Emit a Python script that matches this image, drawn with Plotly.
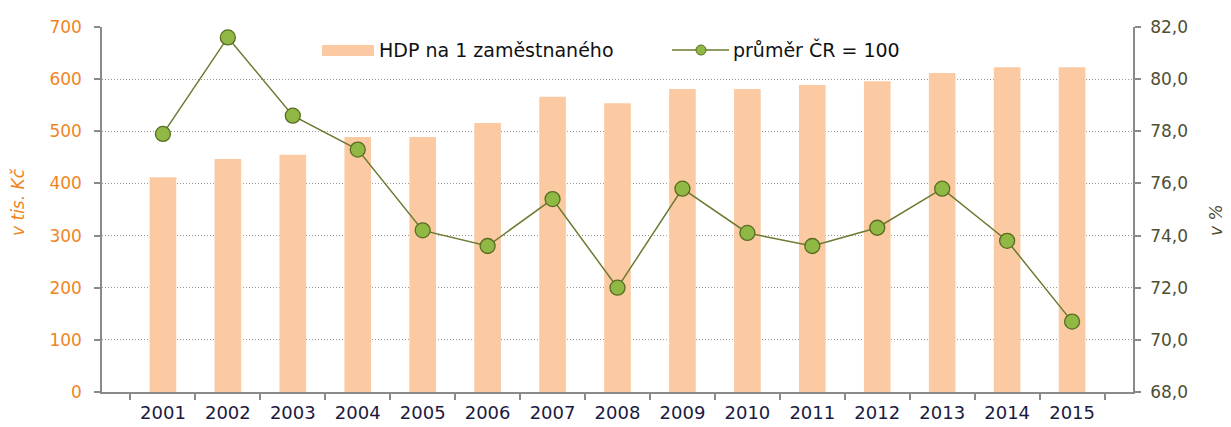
import plotly.graph_objects as go

years = [str(y) for y in range(2001, 2016)]
hdp = [412, 447, 455, 489, 489, 516, 566, 554, 581, 581, 589, 596, 612, 623, 623]
prumer = [77.9, 81.6, 78.6, 77.3, 74.2, 73.6, 75.4, 72.0, 75.8, 74.1, 73.6, 74.3, 75.8, 73.8, 70.7]

bar_name = "HDP na 1 zaměstnaného"
line_name = "průměr ČR = 100"
left_title = "v tis. Kč"
right_title = "v %"

FONT = "DejaVu Sans, Verdana, sans-serif"
BAR_COLOR = "#fbcaa2"
LINE_COLOR = "#6b7a30"
MARKER_FILL = "#8fb944"
MARKER_EDGE = "#5a6b22"
AXIS_COLOR = "#8a8a8a"
ORANGE = "#f0851f"
OLIVE = "#4e4e34"

# page body has an 8px margin in the browser -> compensate
OFFX, OFFY = 8, 8
W, H = 1231 - OFFX, 427 - OFFY
PL, PR, PT, PB = 102 - OFFX, 98, 27 - OFFY, 35
plot_w = W - PL - PR
plot_h = H - PT - PB


def px_x(px):
    return (px - OFFX - PL) / plot_w


def px_y(py):
    return (H - PB - (py - OFFY)) / plot_h


fig = go.Figure()
fig.add_trace(go.Bar(
    x=years, y=hdp, name=bar_name,
    marker=dict(color=BAR_COLOR, line=dict(width=0)),
    width=0.41, yaxis="y", showlegend=False,
))
fig.add_trace(go.Scatter(
    x=years, y=prumer, name=line_name, yaxis="y2",
    mode="lines+markers", showlegend=False,
    line=dict(color=LINE_COLOR, width=1.5),
    marker=dict(size=15, color=MARKER_FILL, line=dict(color=MARKER_EDGE, width=1.3)),
))

# custom legend (Excel-like wide symbols)
ly = 50
shapes = [
    dict(type="rect", xref="paper", yref="paper",
         x0=px_x(322), x1=px_x(374), y0=px_y(56), y1=px_y(45),
         fillcolor=BAR_COLOR, line=dict(width=0), layer="above"),
    dict(type="line", xref="paper", yref="paper",
         x0=px_x(672), x1=px_x(729), y0=px_y(ly), y1=px_y(ly),
         line=dict(color=LINE_COLOR, width=1.5), layer="above"),
    dict(type="circle", xref="paper", yref="paper",
         x0=px_x(696), x1=px_x(706), y0=px_y(ly + 5), y1=px_y(ly - 5),
         fillcolor=MARKER_FILL, line=dict(color=MARKER_EDGE, width=1), layer="above"),
]
annotations = [
    dict(text=bar_name, xref="paper", yref="paper", x=px_x(377), y=px_y(ly),
         xanchor="left", yanchor="middle", showarrow=False,
         font=dict(family=FONT, size=19, color="#111111")),
    dict(text=line_name, xref="paper", yref="paper", x=px_x(731), y=px_y(ly),
         xanchor="left", yanchor="middle", showarrow=False,
         font=dict(family=FONT, size=19, color="#111111")),
    dict(text="<i>" + left_title + "</i>", xref="paper", yref="paper",
         x=px_x(18), y=px_y(202), xanchor="center", yanchor="middle",
         textangle=-90, showarrow=False,
         font=dict(family=FONT, size=17, color=ORANGE)),
    dict(text="<i>" + right_title + "</i>", xref="paper", yref="paper",
         x=px_x(1216), y=px_y(220), xanchor="center", yanchor="middle",
         textangle=-90, showarrow=False,
         font=dict(family=FONT, size=17, color=OLIVE)),
]

fig.update_layout(
    width=W, height=H,
    margin=dict(l=PL, r=PR, t=PT, b=PB, autoexpand=False),
    paper_bgcolor="white", plot_bgcolor="white",
    separators=",.",
    font=dict(family=FONT, size=17, color="#1a1a40"),
    showlegend=False,
    shapes=shapes,
    annotations=annotations,
    xaxis=dict(
        showline=True, linecolor=AXIS_COLOR, linewidth=1.5,
        ticks="outside", ticklen=6, tickcolor=AXIS_COLOR, tickwidth=1.5,
        tickson="boundaries", showgrid=False, automargin=False,
        ticklabelstandoff=4,
        tickfont=dict(family=FONT, size=18, color="#1a1a40"),
    ),
    yaxis=dict(
        range=[0, 700], dtick=100, showline=True, linecolor=AXIS_COLOR, linewidth=1.5,
        ticks="outside", ticklen=6, tickcolor=AXIS_COLOR, tickwidth=1.5,
        showgrid=True, gridcolor="#9a9a9a", griddash="1px,2px", gridwidth=1,
        zeroline=False, automargin=False, ticklabelstandoff=9,
        tickfont=dict(family=FONT, size=17, color=ORANGE),
    ),
    yaxis2=dict(
        range=[68, 82], dtick=2, overlaying="y", side="right", tickformat=".1f",
        showline=True, linecolor=AXIS_COLOR, linewidth=1.5,
        ticks="outside", ticklen=6, tickcolor=AXIS_COLOR, tickwidth=1.5,
        showgrid=False, zeroline=False, automargin=False, ticklabelstandoff=6,
        tickfont=dict(family=FONT, size=17, color=OLIVE),
    ),
)

fig.write_html("out.html")
